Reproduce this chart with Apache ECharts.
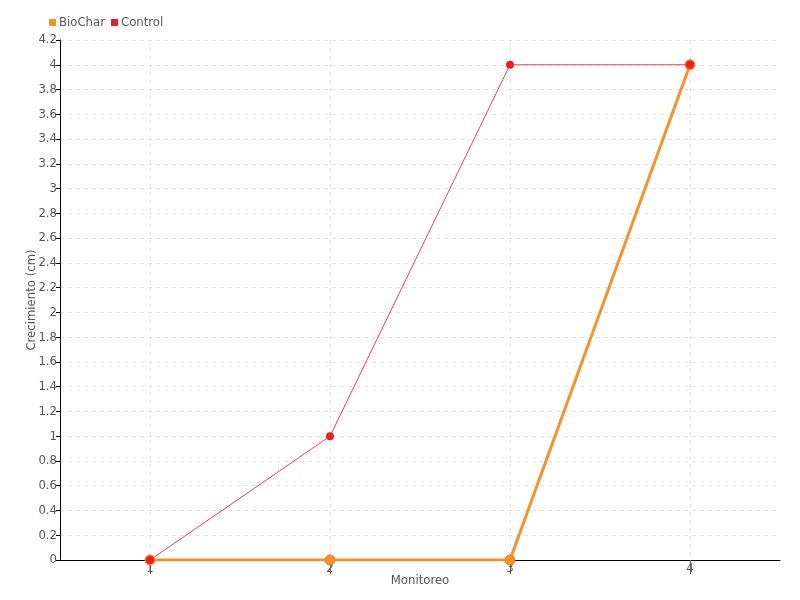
<!DOCTYPE html>
<html><head><meta charset="utf-8">
<script src="https://cdn.jsdelivr.net/npm/echarts@6/dist/echarts.min.js"></script>
<style>html,body{margin:0;padding:0;background:#fff}#c{width:800px;height:600px}</style>
</head><body><div id="c"></div>
<script>
const monitoreo = [1, 2, 3, 4];
const biochar = [0, 0, 0, 4];
const control = [0, 1, 4, 4];
const seriesNames = ['BioChar', 'Control'];

const FONT = "'DejaVu Sans Condensed', 'Liberation Sans Narrow', sans-serif";
const chart = echarts.init(document.getElementById('c'));
chart.setOption({
  animation: false,
  textStyle: { fontFamily: FONT },
  legend: {
    left: 44, top: 11, itemWidth: 7, itemHeight: 7, itemGap: 6,
    icon: 'rect',
    itemStyle: { borderWidth: 0 },
    textStyle: { fontFamily: FONT, fontSize: 13, color: '#555', padding: [0, 0, 0, -2] },
    data: seriesNames
  },
  grid: { left: 60, right: 20, top: 40, bottom: 40 },
  xAxis: {
    type: 'value', min: 0.5, max: 4.5, interval: 1,
    name: 'Monitoreo', nameLocation: 'middle', nameGap: 14, nameMoveOverlap: false,
    nameTextStyle: { fontFamily: FONT, fontSize: 13, color: '#555' },
    axisLine: { show: true, lineStyle: { color: '#000', width: 1 } },
    axisTick: { show: true, length: 14, lineStyle: { color: '#666' },
      customValues: monitoreo },
    axisLabel: { color: '#555', fontSize: 13, fontFamily: FONT, margin: 2,
      customValues: monitoreo, formatter: v => String(v) },
    splitLine: { show: true, lineStyle: { type: [4, 4], color: '#e3e3e3' } }
  },
  yAxis: {
    type: 'value', min: 0, max: 4.2, interval: 0.2,
    name: 'Crecimiento (cm)', nameLocation: 'middle', nameGap: 22, nameMoveOverlap: false,
    nameTextStyle: { fontFamily: FONT, fontSize: 13, color: '#555' },
    axisLine: { show: true, lineStyle: { color: '#000', width: 1 } },
    axisTick: { show: true, length: 4, lineStyle: { color: '#000' } },
    axisLabel: { color: '#555', fontSize: 13, fontFamily: FONT, margin: 3,
      formatter: v => String(+v.toFixed(1)) },
    splitLine: { show: true, lineStyle: { type: [4, 4], color: '#e3e3e3' } }
  },
  series: [
    {
      name: 'BioChar', type: 'line', z: 2,
      data: monitoreo.map((m, i) => [m, biochar[i]]),
      color: '#f7922a',
      lineStyle: { width: 3, color: '#f7922a' },
      symbol: 'circle', symbolSize: 10,
      itemStyle: { color: '#f7922a', borderColor: '#d9821f', borderWidth: 1 }
    },
    {
      name: 'Control', type: 'line', z: 3,
      data: monitoreo.map((m, i) => [m, control[i]]),
      color: '#ee1c25',
      lineStyle: { width: 1, color: '#f2404a' },
      symbol: 'circle', symbolSize: 8,
      itemStyle: { color: '#ee1c25' }
    }
  ]
});
</script></body></html>
